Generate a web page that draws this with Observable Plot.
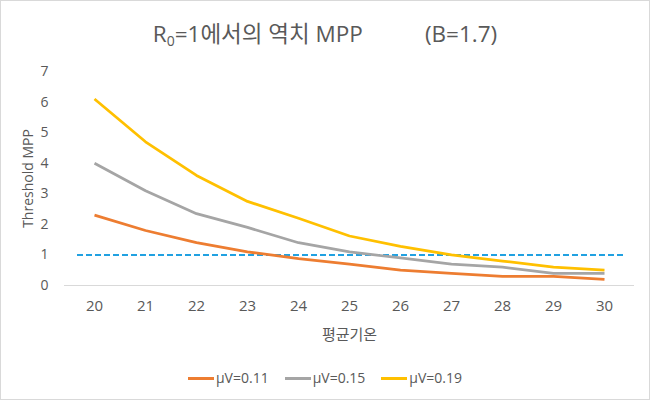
<!DOCTYPE html>
<html>
<head>
<meta charset="utf-8">
<script src="https://cdn.jsdelivr.net/npm/d3@7"></script>
<script src="https://cdn.jsdelivr.net/npm/@observablehq/plot@0.6"></script>
<style>
  html, body { margin: 0; padding: 0; background: #fff; }
  #wrap { position: relative; width: 650px; height: 400px; background: #fff; font-family: "Open Sans", "Noto Sans CJK KR", sans-serif; color: #595959; overflow: hidden; }
  #frame { position: absolute; left: 0; top: 0; width: 650px; height: 400px; box-sizing: border-box; border: 1px solid #d9d9d9; pointer-events: none; }
  #title { position: absolute; left: 0; top: 19px; width: 650px; text-align: center; font-size: 22.5px; line-height: 30px; white-space: nowrap; }
  #title sub { font-size: 14px; vertical-align: -4px; line-height: 0; }
  #title .b { margin-left: 62px; }
  #chart { position: absolute; left: 0; top: 50px; }
  #legend { position: absolute; left: 0; top: 369px; width: 650px; display: flex; justify-content: center; font-size: 14px; line-height: 18px; }
  #legend .item { display: flex; align-items: center; margin: 0 8px; }
  #legend .sw { width: 26px; height: 3px; margin-right: 2px; }
</style>
</head>
<body>
<div id="wrap">
  <div id="title">R<sub>0</sub>=1에서의 역치 MPP<span class="b">(B=1.7)</span></div>
  <div id="chart"></div>
  <div id="legend"></div>
  <div id="frame"></div>
</div>
<script>
const temps = [20, 21, 22, 23, 24, 25, 26, 27, 28, 29, 30];
const mu011 = [2.3, 1.8, 1.4, 1.1, 0.88, 0.7, 0.5, 0.4, 0.3, 0.3, 0.2];
const mu015 = [4.0, 3.1, 2.35, 1.9, 1.4, 1.1, 0.9, 0.7, 0.6, 0.4, 0.4];
const mu019 = [6.1, 4.7, 3.6, 2.75, 2.2, 1.62, 1.28, 1.0, 0.8, 0.6, 0.5];
const seriesNames = ["μV=0.11", "μV=0.15", "μV=0.19"];
const seriesColors = ["#ED7D31", "#A5A5A5", "#FFC000"];
const yTicks = [0, 1, 2, 3, 4, 5, 6, 7];
const thresholdValue = [1];

const rows = [];
[mu011, mu015, mu019].forEach((vals, i) => {
  vals.forEach((v, j) => rows.push({ t: temps[j], v, s: seriesNames[i] }));
});

const fontFamily = '"Open Sans", "Noto Sans CJK KR", sans-serif';

const chart = Plot.plot({
  width: 650,
  height: 300,
  marginTop: 21,
  marginBottom: 65,
  marginLeft: 64,
  marginRight: 16,
  style: { fontFamily, fontSize: "13px", color: "#595959", background: "transparent" },
  x: { type: "point", domain: temps, padding: 0.5 },
  y: { domain: [0, 7] },
  color: { domain: seriesNames, range: seriesColors },
  marks: [
    Plot.ruleY([0], { stroke: "#d9d9d9", strokeWidth: 1 }),
    Plot.axisY({ ticks: yTicks, tickFormat: d3.format("d"), tickSize: 0, tickPadding: 16, fontSize: 14, fill: "#595959",
      label: "Threshold MPP", labelAnchor: "center", labelArrow: "none", labelOffset: 41 }),
    Plot.axisX({ tickSize: 0, tickPadding: 15, fontSize: 14, fill: "#595959",
      label: "평균기온", labelAnchor: "center", labelArrow: "none", labelOffset: 54, fontSize: 15 }),
    Plot.ruleY(thresholdValue, { stroke: "#21A1E1", strokeWidth: 2, strokeDasharray: "6,3", insetLeft: 13, insetRight: 9 }),
    Plot.line(rows, { x: "t", y: "v", z: "s", stroke: "s", strokeWidth: 2.75, strokeLinejoin: "round", strokeLinecap: "butt" })
  ]
});
document.getElementById("chart").appendChild(chart);

const legend = document.getElementById("legend");
seriesNames.forEach((n, i) => {
  const item = document.createElement("div");
  item.className = "item";
  const sw = document.createElement("span");
  sw.className = "sw";
  sw.style.background = seriesColors[i];
  const lab = document.createElement("span");
  lab.textContent = n;
  item.appendChild(sw);
  item.appendChild(lab);
  legend.appendChild(item);
});
</script>
</body>
</html>
